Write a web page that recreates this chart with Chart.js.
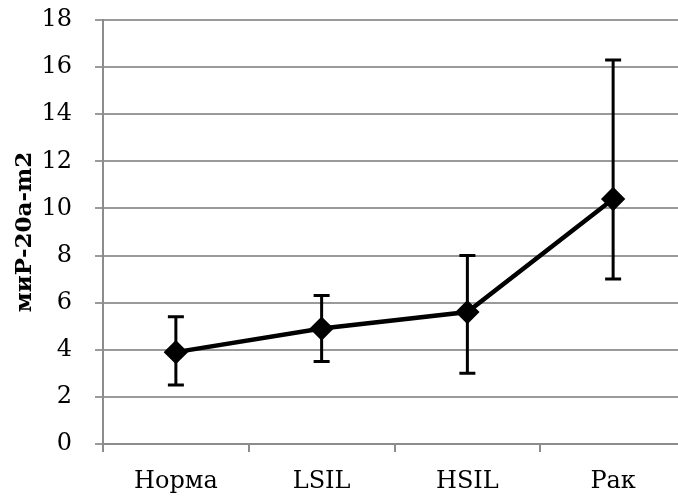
<!DOCTYPE html>
<html>
<head>
<meta charset="utf-8">
<script src="https://cdn.jsdelivr.net/npm/chart.js@4.4.1/dist/chart.umd.min.js"></script>
<style>
  html, body { margin: 0; padding: 0; background: #fff; overflow: hidden; }
  canvas { display: block; }
</style>
</head>
<body>
<canvas id="mirChart" width="700" height="498"></canvas>
<script>
const categories = ['Норма', 'LSIL', 'HSIL', 'Рак'];
const means = [3.9, 4.9, 5.6, 10.4];
const errLow = [2.5, 3.5, 3.0, 7.0];
const errHigh = [5.4, 6.3, 8.0, 16.3];
const yTicks = [0, 2, 4, 6, 8, 10, 12, 14, 16, 18];

// error bars drawn from the low/high arrays through the chart scales
const errorBars = {
    id: 'errorBars',
    afterDatasetsDraw(chart) {
        const { ctx, scales: { x, y } } = chart;
        ctx.save();
        ctx.strokeStyle = '#000';
        ctx.lineWidth = 3;
        categories.forEach((c, i) => {
            const px = x.getPixelForValue(i);
            const top = y.getPixelForValue(errHigh[i]);
            const bot = y.getPixelForValue(errLow[i]);
            ctx.beginPath();
            ctx.moveTo(px, top); ctx.lineTo(px, bot);
            ctx.moveTo(px - 8, top); ctx.lineTo(px + 8, top);
            ctx.moveTo(px - 8, bot); ctx.lineTo(px + 8, bot);
            ctx.stroke();
        });
        ctx.restore();
    }
};

const noPad = s => { s.paddingLeft = 0; s.paddingRight = 0; s.paddingTop = 0; s.paddingBottom = 0; };
const tickFont = { family: 'DejaVu Serif', size: 24 };

new Chart(document.getElementById('mirChart'), {
    type: 'line',
    plugins: [errorBars],
    data: {
        labels: categories,
        datasets: [{
            data: means,
            borderColor: '#000',
            backgroundColor: '#000',
            borderWidth: 4.5,
            pointStyle: 'rectRot',
            pointRadius: 9,
            pointHoverRadius: 9,
            tension: 0,
            fill: false
        }]
    },
    options: {
        responsive: false,
        animation: false,
        layout: { padding: { top: 20, right: 14, bottom: 0, left: 0 } },
        plugins: { legend: { display: false }, tooltip: { enabled: false } },
        scales: {
            x: {
                offset: true,
                afterFit: s => { noPad(s); s.height = 54; },
                grid: {
                    offset: true,
                    drawOnChartArea: false,
                    drawTicks: true,
                    tickLength: 8,
                    color: '#8c8c8c',
                    lineWidth: 2
                },
                border: { color: '#8c8c8c', width: 2 },
                ticks: { color: '#000', font: tickFont, padding: 15 }
            },
            y: {
                min: 0,
                max: 18,
                afterBuildTicks: axis => { axis.ticks = yTicks.map(v => ({ value: v })); },
                afterFit: s => { noPad(s); s.width = 103; },
                grid: { color: '#9a9a9a', lineWidth: 2, tickLength: 8 },
                border: { color: '#8c8c8c', width: 2 },
                ticks: { color: '#000', font: tickFont, padding: 23 },
                title: {
                    display: true,
                    text: 'миР-20а-m2',
                    color: '#000',
                    font: { family: 'DejaVu Serif', size: 23, weight: 'bold' },
                    padding: { top: 11, bottom: 0 }
                }
            }
        }
    }
});
</script>
</body>
</html>
